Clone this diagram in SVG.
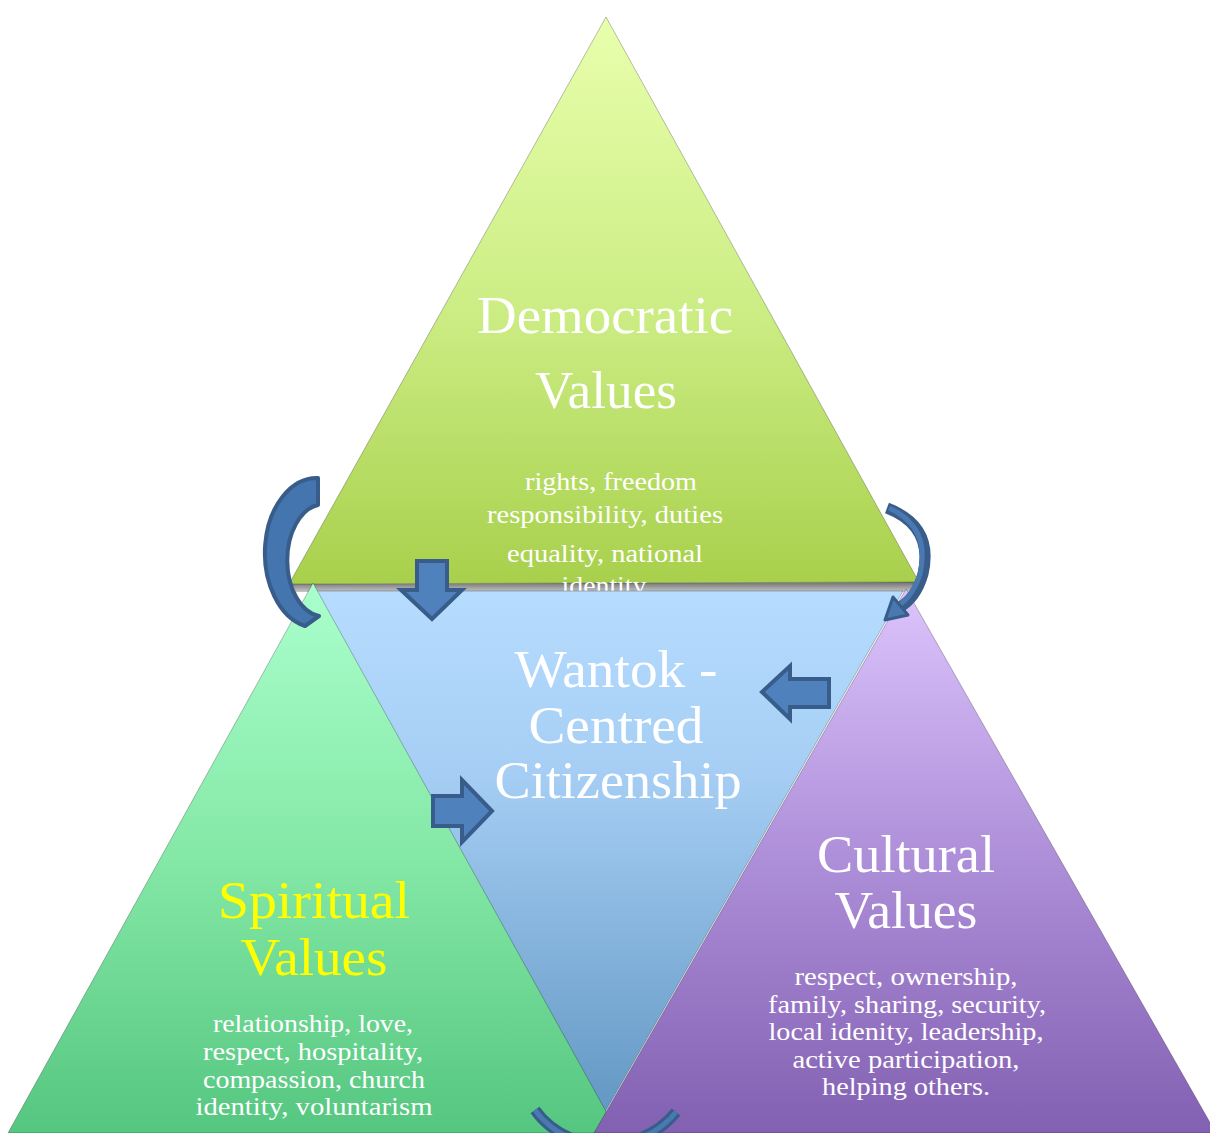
<svg xmlns="http://www.w3.org/2000/svg" width="1210" height="1133" viewBox="0 0 1210 1133">
<style>
  .t { font-family: "Liberation Serif", "Times New Roman", serif; fill: #ffffff; text-anchor: middle; }
  .title { font-size: 52px; }
  .list { font-size: 25px; }
  .yellow { fill: #ffff00; }
  .blk { fill: #4f81bd; stroke: #385d8a; stroke-width: 4; stroke-linejoin: miter; }
  .curveOut { fill: none; stroke: #385d8a; stroke-width: 11; stroke-linecap: butt; }
  .curveIn { fill: none; stroke: #4a78b0; stroke-width: 5; stroke-linecap: butt; }
  .edge { stroke: rgba(0,0,0,0.25); stroke-width: 1; }
</style>
<defs>
  <linearGradient id="gTop" gradientUnits="userSpaceOnUse" x1="0" y1="17" x2="0" y2="583">
    <stop offset="0" stop-color="#e8ffac"/>
    <stop offset="0.5" stop-color="#cdee86"/>
    <stop offset="1" stop-color="#a8d04c"/>
  </linearGradient>
  <linearGradient id="gBlue" gradientUnits="userSpaceOnUse" x1="0" y1="590" x2="0" y2="1112">
    <stop offset="0" stop-color="#b6ddff"/>
    <stop offset="0.35" stop-color="#a6cef4"/>
    <stop offset="1" stop-color="#6398c4"/>
  </linearGradient>
  <linearGradient id="gGreen" gradientUnits="userSpaceOnUse" x1="0" y1="583" x2="0" y2="1133">
    <stop offset="0" stop-color="#aaffcc"/>
    <stop offset="0.5" stop-color="#84e8a6"/>
    <stop offset="1" stop-color="#55c680"/>
  </linearGradient>
  <linearGradient id="gPurple" gradientUnits="userSpaceOnUse" x1="0" y1="589" x2="0" y2="1133">
    <stop offset="0" stop-color="#dcc4fc"/>
    <stop offset="0.5" stop-color="#ad8ed8"/>
    <stop offset="1" stop-color="#8260b2"/>
  </linearGradient>
  <linearGradient id="gShadow" gradientUnits="userSpaceOnUse" x1="0" y1="582" x2="0" y2="592">
    <stop offset="0" stop-color="#707070"/>
    <stop offset="1" stop-color="#c8c8c8"/>
  </linearGradient>
</defs>

<g id="node-democratic">
  <polygon points="289,584 919,582 915,592 293,592" fill="url(#gShadow)"/>
  <polygon class="edge" points="606,17 289,584 919,582" fill="url(#gTop)"/>
  <text class="t title" x="605" y="333" font-size="54" textLength="256" lengthAdjust="spacingAndGlyphs">Democratic</text>
  <text class="t title" x="606" y="408" font-size="54" textLength="142" lengthAdjust="spacingAndGlyphs">Values</text>
  <text class="t list" x="611" y="490" textLength="172" lengthAdjust="spacingAndGlyphs">rights, freedom</text>
  <text class="t list" x="605" y="523" textLength="236" lengthAdjust="spacingAndGlyphs">responsibility, duties</text>
  <text class="t list" x="605" y="562" textLength="196" lengthAdjust="spacingAndGlyphs">equality, national</text>
  <text class="t list" x="604" y="594" textLength="85" lengthAdjust="spacingAndGlyphs">identity</text>
</g>

<g id="node-wantok">
  <polygon class="edge" points="308,591 903,591 605,1112" fill="url(#gBlue)"/>
  <text class="t title" x="616" y="687" textLength="203" lengthAdjust="spacingAndGlyphs">Wantok -</text>
  <text class="t title" x="616" y="743" textLength="175" lengthAdjust="spacingAndGlyphs">Centred</text>
  <text class="t title" x="618" y="798" textLength="247" lengthAdjust="spacingAndGlyphs">Citizenship</text>
</g>

<g id="node-spiritual">
  <polygon class="edge" points="313,583 8,1133 618,1133" fill="url(#gGreen)"/>
  <text class="t title yellow" x="314" y="918" textLength="192" lengthAdjust="spacingAndGlyphs">Spiritual</text>
  <text class="t title yellow" x="314" y="975" textLength="147" lengthAdjust="spacingAndGlyphs">Values</text>
  <text class="t list" x="313" y="1032" textLength="200" lengthAdjust="spacingAndGlyphs">relationship, love,</text>
  <text class="t list" x="313" y="1060" textLength="220" lengthAdjust="spacingAndGlyphs">respect, hospitality,</text>
  <text class="t list" x="314" y="1088" textLength="222" lengthAdjust="spacingAndGlyphs">compassion, church</text>
  <text class="t list" x="314" y="1115" textLength="237" lengthAdjust="spacingAndGlyphs">identity, voluntarism</text>
</g>

<g id="node-cultural">
  <polygon class="edge" points="906,589 594,1133 1216,1133" fill="url(#gPurple)"/>
  <text class="t title" x="906" y="872" textLength="178" lengthAdjust="spacingAndGlyphs">Cultural</text>
  <text class="t title" x="906" y="928" textLength="143" lengthAdjust="spacingAndGlyphs">Values</text>
  <text class="t list" x="906" y="985" textLength="223" lengthAdjust="spacingAndGlyphs">respect, ownership,</text>
  <text class="t list" x="907" y="1013" textLength="278" lengthAdjust="spacingAndGlyphs">family, sharing, security,</text>
  <text class="t list" x="906" y="1040" textLength="275" lengthAdjust="spacingAndGlyphs">local idenity, leadership,</text>
  <text class="t list" x="906" y="1068" textLength="227" lengthAdjust="spacingAndGlyphs">active participation,</text>
  <text class="t list" x="906" y="1095" textLength="168" lengthAdjust="spacingAndGlyphs">helping others.</text>
</g>

<g id="connectors">
  <!-- block arrows -->
  <polygon class="blk" points="417,561 447,561 447,590 462,590 432,619 401,590 417,590"/>
  <polygon class="blk" points="829,679 829,707 790,707 790,719 762,692 790,666 790,679"/>
  <polygon class="blk" points="433,796 462,796 462,780 492,811 462,842 462,826 433,826"/>
  <!-- left curved arrow (crescent) -->
  <path d="M 318 478 A 52 75 0 0 0 305 626 L 319 616 A 36 56 0 0 1 318 505 Z" fill="#4575ae" stroke="#385d8a" stroke-width="4" stroke-linejoin="round"/>
  <!-- right curved arrow -->
  <path class="curveOut" d="M 887 508 Q 934 526 923 574 Q 916 598 900 607"/>
  <path class="curveIn" d="M 889 508 Q 931 527 920 574 Q 913 596 899 605"/>
  <polygon points="885,620 893,597 908,615" fill="#4a78b0" stroke="#385d8a" stroke-width="3" stroke-linejoin="round"/>
  <!-- bottom curved arrow -->
  <path class="curveOut" d="M 535 1110 Q 558 1142 605 1146 Q 652 1142 676 1112"/>
  <path class="curveIn" d="M 535 1110 Q 558 1142 605 1146 Q 652 1142 676 1112"/>
</g>
</svg>
